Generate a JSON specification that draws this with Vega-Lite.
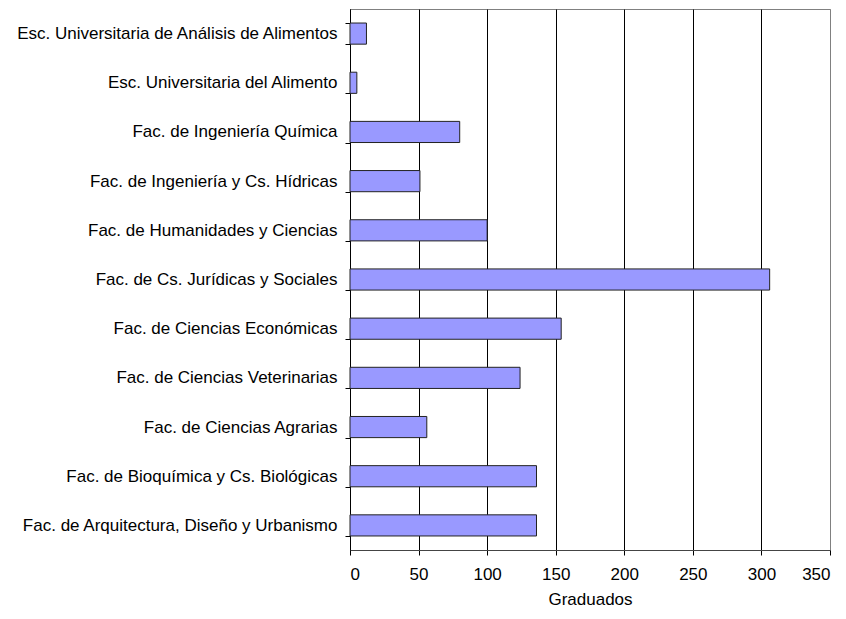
{
  "$schema": "https://vega.github.io/schema/vega-lite/v6.json",
  "width": 480,
  "height": 541,
  "autosize": {"type": "none"},
  "padding": {"left": 350, "top": 9, "right": 16, "bottom": 69},
  "background": "white",
  "config": {
    "font": "Liberation Sans",
    "view": {"stroke": "#808080", "strokeWidth": 1},
    "axis": {"labelFont": "Liberation Sans", "titleFont": "Liberation Sans", "labelColor": "black", "titleColor": "black", "labelFontSize": 17, "titleFontSize": 17, "titleFontWeight": "normal"}
  },
  "data": {
    "values": [
      {"facultad": "Esc. Universitaria de Análisis de Alimentos", "graduados": 12},
      {"facultad": "Esc. Universitaria del Alimento", "graduados": 5},
      {"facultad": "Fac. de Ingeniería Química", "graduados": 80},
      {"facultad": "Fac. de Ingeniería y Cs. Hídricas", "graduados": 51},
      {"facultad": "Fac. de Humanidades y Ciencias", "graduados": 100},
      {"facultad": "Fac. de Cs. Jurídicas y Sociales", "graduados": 306},
      {"facultad": "Fac. de Ciencias Económicas", "graduados": 154},
      {"facultad": "Fac. de Ciencias Veterinarias", "graduados": 124},
      {"facultad": "Fac. de Ciencias Agrarias", "graduados": 56},
      {"facultad": "Fac. de Bioquímica y Cs. Biológicas", "graduados": 136},
      {"facultad": "Fac. de Arquitectura, Diseño y Urbanismo", "graduados": 136}
    ]
  },
  "mark": {"type": "bar", "color": "#9999FF", "stroke": "#222222", "strokeWidth": 1},
  "encoding": {
    "y": {
      "field": "facultad",
      "type": "nominal",
      "sort": null,
      "scale": {"paddingInner": 0.57, "paddingOuter": 0.285},
      "axis": {
        "title": null,
        "labelPadding": 8,
        "tickBand": "extent",
        "ticks": true,
        "tickSize": 5,
        "tickColor": "black",
        "domainColor": "black",
        "labelLimit": 400,
        "grid": false
      }
    },
    "x": {
      "field": "graduados",
      "type": "quantitative",
      "scale": {"domain": [0, 350], "nice": false},
      "axis": {
        "title": "Graduados",
        "values": [0, 50, 100, 150, 200, 250, 300, 350],
        "grid": true,
        "gridColor": {"condition": {"test": "datum.value == 350", "value": "#808080"}, "value": "black"},
        "gridOpacity": 1,
        "tickSize": 5,
        "tickColor": "black",
        "domainColor": "#444444",
        "labelPadding": 11,
        "titlePadding": 9
      }
    }
  }
}
